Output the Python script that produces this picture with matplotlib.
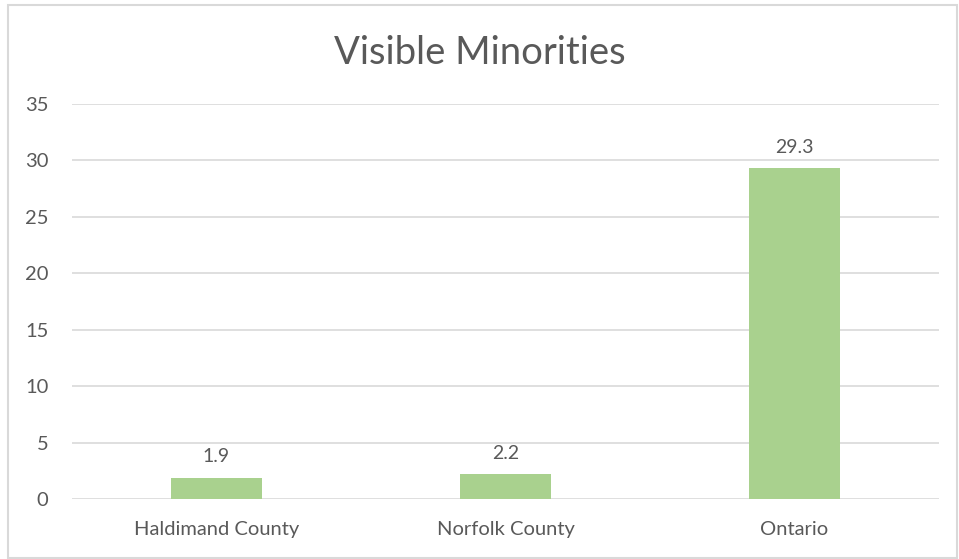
import matplotlib.pyplot as plt
from matplotlib.patches import Rectangle

categories = ['Haldimand County', 'Norfolk County', 'Ontario']
values = [1.9, 2.2, 29.3]
y_ticks = [0, 5, 10, 15, 20, 25, 30, 35]

text_color = '#595959'
grid_color = '#D9D9D9'
bar_color = '#A9D18E'

plt.rcParams['font.family'] = ['Lato', 'DejaVu Sans']

fig = plt.figure(figsize=(9.59, 5.59), dpi=100)
ax = fig.add_axes([0.0751, 0.1073, 0.9040, 0.7067])

# chart border
fig.patches.append(Rectangle((8 / 959, 0.002), 949 / 959, 1 - 5 / 559 - 0.002,
                             transform=fig.transFigure, fill=False,
                             edgecolor=grid_color, linewidth=1.5))

x = range(len(categories))
bars = ax.bar(x, values, width=0.315, color=bar_color, zorder=3)
for b, v in zip(bars, values):
    ax.text(b.get_x() + b.get_width() / 2, v + 1.1, f'{v}', ha='center', va='bottom',
            fontsize=14, color=text_color)

ax.set_xlim(-0.5, 2.5)
ax.set_ylim(0, 35)
ax.set_yticks(y_ticks)
ax.set_xticks(list(x))
ax.set_xticklabels(categories)
ax.yaxis.grid(True, color=grid_color, linewidth=1.2, zorder=0)
ax.tick_params(axis='both', length=0, labelsize=14.5, colors=text_color)
ax.tick_params(axis='y', pad=17)
ax.tick_params(axis='x', pad=16)
for s in ax.spines.values():
    s.set_visible(False)

fig.text(0.5, 1 - 53 / 559, 'Visible Minorities', ha='center', va='center',
         fontsize=27.5, color=text_color)

fig.savefig('out.png', dpi=100)
